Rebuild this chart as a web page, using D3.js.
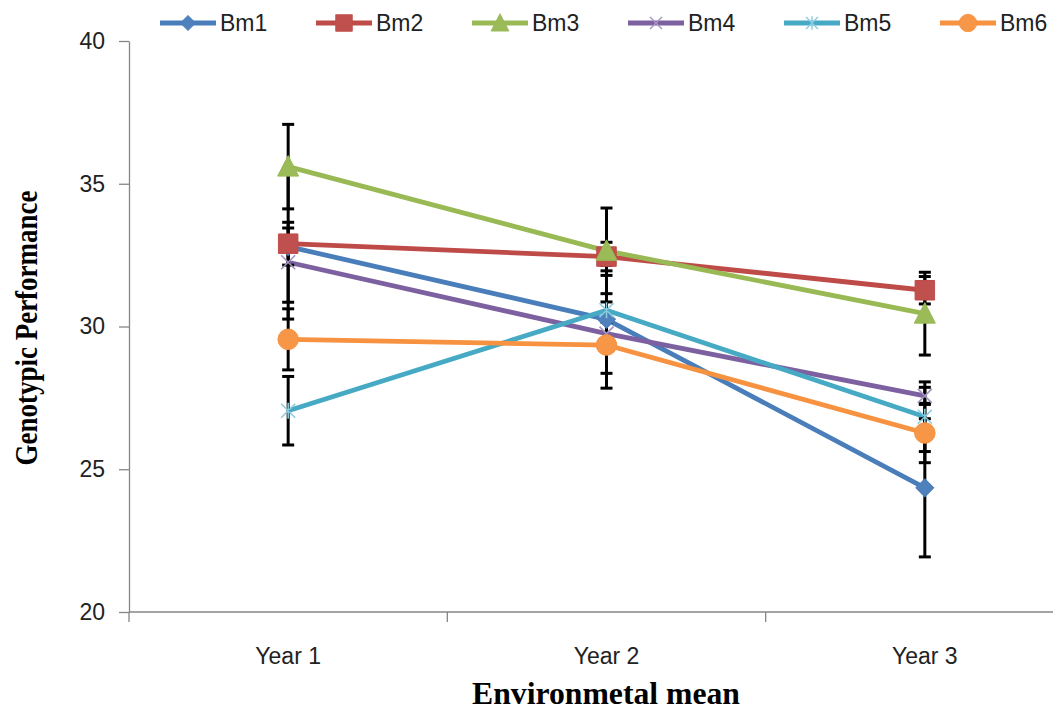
<!DOCTYPE html>
<html><head><meta charset="utf-8">
<script src="https://cdn.jsdelivr.net/npm/d3@7"></script>
<style>html,body{margin:0;padding:0;background:#fff;}svg{display:block;}</style>
</head><body>
<svg id="chart" width="1053" height="711"></svg>
<script>
// ---- data ----
const categories = ["Year 1", "Year 2", "Year 3"];
const seriesNames = ["Bm1", "Bm2", "Bm3", "Bm4", "Bm5", "Bm6"];
const bm1 = [32.8, 30.25, 24.35];
const bm2 = [32.9, 32.45, 31.27];
const bm3 = [35.6, 32.65, 30.45];
const bm4 = [32.25, 29.75, 27.57];
const bm5 = [27.05, 30.57, 26.84];
const bm6 = [29.55, 29.35, 26.27];
const err1 = [0.65, 1.89, 2.42];
const err2 = [2.64, 0.5, 0.48];
const err3 = [1.48, 1.5, 1.45];
const err4 = [1.4, 0.4, 0.3];
const err5 = [1.2, 1.22, 1.22];
const err6 = [1.07, 1.51, 1.04];
const yTicks = [20, 25, 30, 35, 40];
const yTitle = "Genotypic Performance";
const xTitle = "Environmetal mean";

const values = [bm1, bm2, bm3, bm4, bm5, bm6];
const errors = [err1, err2, err3, err4, err5, err6];
const lineColors = ["#4A7EBB", "#BE4B48", "#98B954", "#7D60A0", "#46AAC5", "#F69240"];
const fillColors = ["#4F81BD", "#C0504D", "#9BBB59", "#8064A2", "#4BACC6", "#F79646"];
const markerStroke = ["#4A7EBB", "#BE4B48", "#98B954", "#A594C2", "#8ACBDD", "#F69240"];
const markerTypes = ["diamond", "square", "triangle", "x", "star", "circle"];

const series = seriesNames.map((name, i) => ({
  name, i,
  points: categories.map((c, j) => ({ c, v: values[i][j], e: errors[i][j] }))
}));

const svg = d3.select("#chart");
const FONT = "'Liberation Sans', Arial, sans-serif";
const SERIF = "'Liberation Serif', 'Times New Roman', serif";
const axisColor = "#868686";

const x = d3.scaleBand().domain(categories).range([129, 1084]);
const cx = c => x(c) + x.bandwidth() / 2;
const y = d3.scaleLinear().domain([20, 40]).range([612, 41]);

svg.append("rect").attr("width", 1053).attr("height", 711).attr("fill", "#fff");

// ---- y axis ----
const yAxis = svg.append("g").attr("transform", "translate(129,0)")
  .call(d3.axisLeft(y).tickValues(yTicks).tickSize(10).tickSizeOuter(0).tickPadding(14));
yAxis.select(".domain").attr("stroke", axisColor).attr("stroke-width", 1.3);
yAxis.selectAll(".tick line").attr("stroke", axisColor).attr("stroke-width", 1.3);
yAxis.selectAll(".tick text").attr("font-family", FONT).attr("font-size", 23).attr("fill", "#222");

// ---- x axis ----
const xAxis = svg.append("g").attr("transform", "translate(0,612)")
  .call(d3.axisBottom(x).tickSize(0).tickPadding(36));
xAxis.select(".domain").remove();
xAxis.selectAll(".tick text").attr("font-family", FONT).attr("font-size", 23).attr("fill", "#222");
xAxis.append("line").attr("x1", 129).attr("x2", 1053).attr("y1", 0).attr("y2", 0)
  .attr("stroke", axisColor).attr("stroke-width", 1.3);
xAxis.selectAll(".btick").data(categories).join("line").attr("class", "btick")
  .attr("x1", d => x(d)).attr("x2", d => x(d)).attr("y1", 0).attr("y2", 10)
  .attr("stroke", axisColor).attr("stroke-width", 1.3);

// ---- axis titles ----
svg.append("text").attr("transform", "translate(37,328) rotate(-90)")
  .attr("text-anchor", "middle").attr("font-family", SERIF).attr("font-weight", "bold")
  .attr("font-size", 32).attr("textLength", 275).attr("lengthAdjust", "spacingAndGlyphs")
  .attr("fill", "#000").text(yTitle);
svg.append("text").attr("x", 606).attr("y", 704)
  .attr("text-anchor", "middle").attr("font-family", SERIF).attr("font-weight", "bold")
  .attr("font-size", 31).attr("textLength", 268).attr("lengthAdjust", "spacingAndGlyphs")
  .attr("fill", "#000").text(xTitle);

// ---- lines ----
const line = d3.line().x(d => cx(d.c)).y(d => y(d.v));
svg.append("g").selectAll("path").data(series).join("path")
  .attr("d", d => line(d.points)).attr("fill", "none")
  .attr("stroke", d => lineColors[d.i]).attr("stroke-width", 4.8)
  .attr("stroke-linejoin", "round");

// ---- error bars ----
const eb = svg.append("g");
series.forEach(s => {
  s.points.forEach(p => {
    const X = cx(p.c);
    eb.append("line").attr("x1", X).attr("x2", X).attr("y1", y(p.v + p.e)).attr("y2", y(p.v - p.e))
      .attr("stroke", "#000").attr("stroke-width", 3);
    [p.v + p.e, p.v - p.e].forEach(v => {
      eb.append("line").attr("x1", X - 6).attr("x2", X + 6).attr("y1", y(v)).attr("y2", y(v))
        .attr("stroke", "#000").attr("stroke-width", 3);
    });
  });
});

// ---- markers ----
function drawMarker(g, type, i) {
  if (type === "diamond") {
    g.append("path").attr("d", d3.symbol(d3.symbolSquare, 160)()).attr("transform", "rotate(45)")
      .attr("fill", fillColors[i]).attr("stroke", lineColors[i]).attr("stroke-width", 1);
  } else if (type === "square") {
    g.append("path").attr("d", d3.symbol(d3.symbolSquare, 380)())
      .attr("fill", fillColors[i]).attr("stroke", lineColors[i]).attr("stroke-width", 1);
  } else if (type === "triangle") {
    g.append("path").attr("d", "M0,-11L10.5,9.5L-10.5,9.5Z")
      .attr("fill", fillColors[i]).attr("stroke", lineColors[i]).attr("stroke-width", 1).attr("stroke-linejoin", "round");
  } else if (type === "circle") {
    g.append("path").attr("d", d3.symbol(d3.symbolCircle, 330)())
      .attr("fill", fillColors[i]).attr("stroke", lineColors[i]).attr("stroke-width", 1);
  } else if (type === "x") {
    g.append("path").attr("d", "M-7,-7L7,7M-7,7L7,-7")
      .attr("fill", "none").attr("stroke", markerStroke[i]).attr("stroke-width", 1.6);
  } else if (type === "star") {
    g.append("path").attr("d", "M-7,-7L7,7M-7,7L7,-7M0,-8L0,8")
      .attr("fill", "none").attr("stroke", markerStroke[i]).attr("stroke-width", 1.6);
  }
}
const mk = svg.append("g");
series.forEach(s => {
  s.points.forEach(p => {
    const g = mk.append("g").attr("transform", `translate(${cx(p.c)},${y(p.v)})`);
    drawMarker(g, markerTypes[s.i], s.i);
  });
});

// ---- legend ----
const legend = svg.append("g");
series.forEach(s => {
  const lx = 160 + s.i * 156;
  const g = legend.append("g").attr("transform", `translate(${lx},23)`);
  g.append("line").attr("x1", 0).attr("x2", 56).attr("y1", 0).attr("y2", 0)
    .attr("stroke", lineColors[s.i]).attr("stroke-width", 4.8);
  const m = g.append("g").attr("transform", "translate(28,0) scale(0.85)");
  drawMarker(m, markerTypes[s.i], s.i);
  g.append("text").attr("x", 60).attr("y", 0).attr("dy", "0.35em")
    .attr("font-family", FONT).attr("font-size", 23).attr("fill", "#222").text(s.name);
});
</script>
</body></html>
